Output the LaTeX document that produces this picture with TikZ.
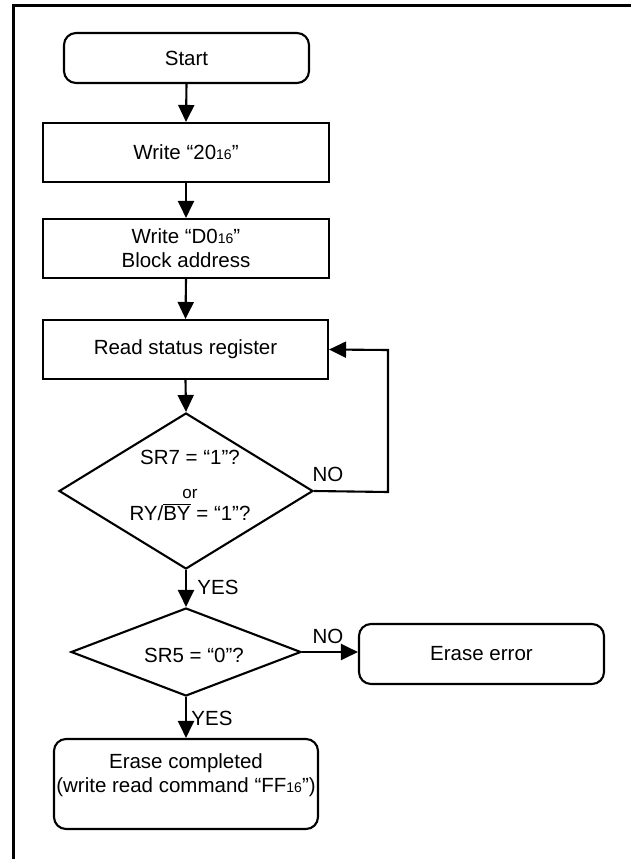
\documentclass[tikz,border=0pt]{standalone}
\usepackage{fontspec}
\setmainfont{Liberation Sans}
\usetikzlibrary{arrows.meta,shapes.geometric}
\newcommand{\sixteen}{{\fontsize{14}{14}\selectfont 16}}
\begin{document}
\begin{tikzpicture}[x=1pt,y=-1pt,
  font=\fontsize{20.5}{24}\selectfont,
  box/.style={draw,line width=2.1pt,rectangle,inner sep=0pt,align=center},
  rbox/.style={box,rounded corners=12pt},
  dia/.style={draw,line width=2.1pt,diamond,inner sep=0pt,align=center},
  arr/.style={line width=2.1pt,-{Triangle[length=17pt,width=16pt]}},
  lbl/.style={inner sep=0pt}]
\useasboundingbox (0,0) rectangle (631,859);
% frame
\coordinate (ftr) at (631,6);
\coordinate (ftl) at (13,6);
\coordinate (fbl) at (13,859);
\draw[line width=3pt] (ftr) -- (11.5,6);
\draw[line width=3pt] (ftl) -- (fbl);
% nodes
\node[rbox,minimum width=245pt,minimum height=50pt] (start) at (186.5,58) {Start};
\node[box,minimum width=286pt,minimum height=59pt] (w20) at (186,152.5) {Write “20\sixteen”};
\node[box,minimum width=286pt,minimum height=59pt] (wd0) at (186,248.5) {Write “D0\sixteen”\\Block address};
\node[box,minimum width=285pt,minimum height=59pt] (rsr) at (185.5,349.5) {Read status register};
\node[dia,minimum width=254pt,minimum height=156pt] (d1) at (186,491) {};
\node[lbl,anchor=base] (d1a) at (190,464) {SR7 = “1”?};
\node[lbl,anchor=base,font=\fontsize{17}{17}\selectfont] (d1b) at (190,498) {or};
\node[lbl,anchor=base] (d1c) at (190,520) {RY/$\overline{\mbox{BY}}$ = “1”?};
\node[dia,minimum width=230pt,minimum height=88pt] (d2) at (186,652) {};
\node[lbl] (d2t) at (194,655) {SR5 = “0”?};
\node[rbox,minimum width=245pt,minimum height=60pt] (err) at (481.5,654) {Erase error};
\node[rbox,minimum width=264pt,minimum height=90pt] (done) at (186,784) {};
\node[lbl,align=center] (donet) at (186,775.5) {Erase completed\\(write read command “FF\sixteen”)};
% labels
\node[lbl] (no1) at (328,474) {NO};
\node[lbl] (yes1) at (218,587) {YES};
\node[lbl] (no2) at (328,636) {NO};
\node[lbl] (yes2) at (212,718) {YES};
% connectors
\coordinate (loopA) at (388,492);
\coordinate (loopB) at (388,350);
\draw[arr] (start.south) -- (w20.north);
\draw[arr] (w20.south) -- (wd0.north);
\draw[arr] (wd0.south) -- (rsr.north);
\draw[arr] (rsr.south) -- (d1.north);
\draw[arr] (d1.south) -- (d2.north);
\draw[arr] (d2.south) -- (done.north);
\draw[arr] (d2.east) -- (err.west |- d2.east);
\draw[arr] (d1.east) -- (loopA) -- (loopB) -- (rsr.east);
\end{tikzpicture}
\end{document}
